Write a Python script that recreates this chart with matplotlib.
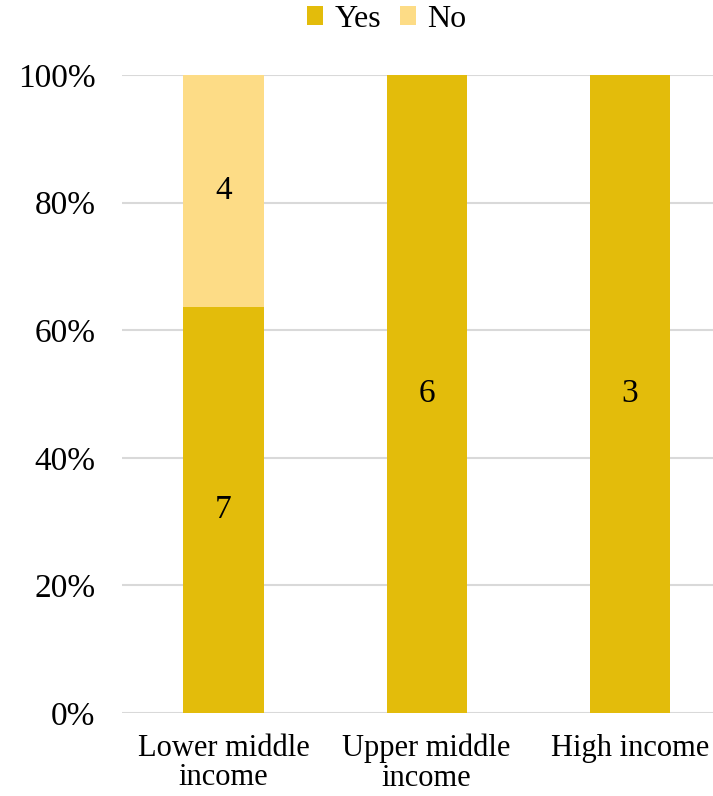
import matplotlib.pyplot as plt
import numpy as np
from matplotlib.ticker import PercentFormatter

plt.rcParams['font.family'] = ['Liberation Serif', 'DejaVu Serif']

categories = ['Lower middle\nincome', 'Upper middle\nincome', 'High income']
yes_counts = np.array([7, 6, 3])
no_counts = np.array([4, 0, 0])

yes_color = '#E3BC0B'
no_color = '#FDDC86'

totals = yes_counts + no_counts
yes_share = yes_counts / totals
no_share = no_counts / totals

fig = plt.figure(figsize=(7.13, 7.96), dpi=100)
ax = fig.add_axes([122 / 713, 83 / 796, 1 - 122 / 713, (713 - 75) / 796])

x = np.arange(len(categories))
width = 0.395
ax.bar(x, yes_share, width, color=yes_color, label='Yes', zorder=3)
ax.bar(x, no_share, width, bottom=yes_share, color=no_color, label='No', zorder=3)

# count labels in the middle of each segment
for i in range(len(categories)):
    if yes_counts[i] > 0:
        ax.text(x[i], yes_share[i] / 2, str(yes_counts[i]), ha='center', va='center',
                fontsize=24, zorder=4)
    if no_counts[i] > 0:
        ax.text(x[i], yes_share[i] + no_share[i] / 2, str(no_counts[i]), ha='center',
                va='center', fontsize=24, zorder=4)

ax.set_xlim(-0.5, 2.41)
ax.set_ylim(0, 1)
ax.set_yticks(np.arange(0, 1.01, 0.2))
ax.yaxis.set_major_formatter(PercentFormatter(1.0, decimals=0))
ax.set_xticks(x)
ax.set_xticklabels(categories, fontsize=22, linespacing=1.02)
ax.tick_params(axis='y', labelsize=24, length=0, pad=19)
ax.tick_params(axis='x', length=0, pad=15)
ax.grid(axis='y', color='#D9D9D9', linewidth=1.5, zorder=0)
for s in ax.spines.values():
    s.set_visible(False)

fig.legend(loc='upper center', bbox_to_anchor=(387 / 713, 1.03), ncol=2, frameon=False,
           fontsize=23, handlelength=0.5, handleheight=0.5, handletextpad=0.35,
           columnspacing=0.6)

plt.savefig('out.png', dpi=100)
